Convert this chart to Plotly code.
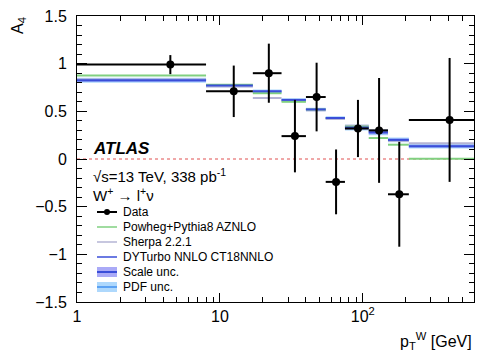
import plotly.graph_objects as go
import numpy as np

# ---- data ----
bin_edges = [1, 8, 17, 27, 40, 55, 75, 110, 150, 210, 600]
data_x = [4.5, 12.5, 22, 33.5, 47.5, 65, 92.5, 130, 180, 405]
data_y = [0.99, 0.71, 0.90, 0.24, 0.65, -0.24, 0.32, 0.30, -0.37, 0.41]
data_err = [0.10, 0.27, 0.31, 0.38, 0.36, 0.34, 0.30, 0.55, 0.55, 0.65]

powheg = [0.875, 0.78, 0.69, 0.60, 0.52, 0.43, 0.34, 0.22, 0.15, 0.003]
sherpa = [0.835, 0.76, 0.64, 0.61, 0.51, 0.42, 0.35, 0.30, 0.19, 0.165]
dyturbo = [0.826, 0.77, 0.71, 0.62, 0.52, 0.43, 0.33, 0.28, 0.20, 0.135]
scale_unc = [0.015, 0.010, 0.010, 0.010, 0.010, 0.010, 0.020, 0.020, 0.015, 0.015]
pdf_unc = [0.010, 0.008, 0.008, 0.008, 0.008, 0.008, 0.010, 0.010, 0.010, 0.010]

x_tickvals = [1, 10, 100]
x_ticktext = ["1", "10", "10<sup>2</sup>"]
y_tickvals = [-1.5, -1, -0.5, 0, 0.5, 1, 1.5]
y_ticktext = ["\u22121.5", "\u22121", "\u22120.5", "0", "0.5", "1", "1.5"]

legend_labels = ["Data", "Powheg+Pythia8 AZNLO", "Sherpa 2.2.1",
                 "DYTurbo NNLO CT18NNLO", "Scale unc.", "PDF unc."]

C_GREEN = "#80d080"
C_GREY = "#b4b4d4"
C_BLUE = "#3a4ed8"
C_SCALE = "rgba(100,100,240,0.55)"
C_PDF = "rgba(120,190,250,0.6)"

lo = bin_edges[:-1]
hi = bin_edges[1:]


def steps(vals):
    xs, ys = [], []
    for a, b, v in zip(lo, hi, vals):
        xs += [a, b, None]
        ys += [v, v, None]
    return xs, ys


def band(vals, errs):
    xs, ys = [], []
    for a, b, v, e in zip(lo, hi, vals, errs):
        xs += [a, b, b, a, a, None]
        ys += [v - e, v - e, v + e, v + e, v - e, None]
    return xs, ys


fig = go.Figure()

# zero line
fig.add_trace(go.Scatter(x=[bin_edges[0], bin_edges[-1]], y=[0, 0], mode="lines",
                         line=dict(color="#e05050", width=1, dash="dot"),
                         showlegend=False, hoverinfo="skip"))

# PDF band
bx, by = band(dyturbo, [s + p for s, p in zip(scale_unc, pdf_unc)])
fig.add_trace(go.Scatter(x=bx, y=by, fill="toself", fillcolor=C_PDF,
                         line=dict(width=0), mode="lines", showlegend=False, hoverinfo="skip"))
# Scale band
bx, by = band(dyturbo, scale_unc)
fig.add_trace(go.Scatter(x=bx, y=by, fill="toself", fillcolor=C_SCALE,
                         line=dict(width=0), mode="lines", showlegend=False, hoverinfo="skip"))

for vals, col in [(sherpa, C_GREY), (powheg, C_GREEN), (dyturbo, C_BLUE)]:
    sx, sy = steps(vals)
    fig.add_trace(go.Scatter(x=sx, y=sy, mode="lines", line=dict(color=col, width=2),
                             showlegend=False, hoverinfo="skip"))

# data
fig.add_trace(go.Scatter(
    x=data_x, y=data_y, mode="markers",
    marker=dict(color="black", size=8),
    error_y=dict(type="data", array=data_err, color="black", thickness=2, width=0),
    error_x=dict(type="data", symmetric=False,
                 array=[b - x for b, x in zip(hi, data_x)],
                 arrayminus=[x - a for a, x in zip(lo, data_x)],
                 color="black", thickness=2, width=0),
    showlegend=False))

# ---- layout ----
L, R, T, B = 77, 474, 16, 302
W, H = 481, 351


def px(x):
    return (x - L) / (R - L)


def py(y):
    return (B - y) / (B - T)


annotations = []
shapes = []

annotations.append(dict(x=px(91), y=py(148), xref="paper", yref="paper", xanchor="left",
                        yanchor="middle", showarrow=False, text="<b><i>ATLAS</i></b>",
                        font=dict(size=17, color="black")))
annotations.append(dict(x=px(91), y=py(175), xref="paper", yref="paper", xanchor="left",
                        yanchor="middle", showarrow=False,
                        text="\u221as=13 TeV, 338 pb<sup>-1</sup>",
                        font=dict(size=15, color="black")))
annotations.append(dict(x=px(91), y=py(194), xref="paper", yref="paper", xanchor="left",
                        yanchor="middle", showarrow=False,
                        text="W<sup>+</sup> \u2192 l<sup>+</sup>\u03bd",
                        font=dict(size=15, color="black")))

leg_y = [212, 227, 242, 257, 272, 287]
for lab, yy in zip(legend_labels, leg_y):
    annotations.append(dict(x=px(121), y=py(yy), xref="paper", yref="paper", xanchor="left",
                            yanchor="middle", showarrow=False, text=lab,
                            font=dict(size=12, color="black")))

x0s, x1s = px(97), px(117)
# Data symbol
shapes.append(dict(type="line", xref="paper", yref="paper", x0=x0s, x1=x1s,
                   y0=py(212), y1=py(212), line=dict(color="black", width=2)))
shapes.append(dict(type="circle", xref="paper", yref="paper", x0=px(104), x1=px(110),
                   y0=py(215), y1=py(209), fillcolor="black", line=dict(color="black", width=0)))
for yy, col in [(227, C_GREEN), (242, C_GREY), (257, C_BLUE)]:
    shapes.append(dict(type="line", xref="paper", yref="paper", x0=x0s, x1=x1s,
                       y0=py(yy), y1=py(yy), line=dict(color=col, width=1.5)))
shapes.append(dict(type="rect", xref="paper", yref="paper", x0=x0s, x1=x1s,
                   y0=py(277), y1=py(267), fillcolor=C_SCALE, line=dict(width=0)))
shapes.append(dict(type="line", xref="paper", yref="paper", x0=x0s, x1=x1s,
                   y0=py(272), y1=py(272), line=dict(color=C_BLUE, width=2)))
shapes.append(dict(type="rect", xref="paper", yref="paper", x0=x0s, x1=x1s,
                   y0=py(292), y1=py(282), fillcolor=C_PDF, line=dict(width=0)))
shapes.append(dict(type="line", xref="paper", yref="paper", x0=x0s, x1=x1s,
                   y0=py(287), y1=py(287), line=dict(color="#4090f0", width=1.5)))

# axis titles
annotations.append(dict(x=px(18), y=py(26), xref="paper", yref="paper", xanchor="center",
                        yanchor="middle", showarrow=False, text="A<sub>4</sub>",
                        textangle=-90, font=dict(size=16, color="black")))
annotations.append(dict(x=1.0, y=py(341), xref="paper", yref="paper", xanchor="right",
                        yanchor="middle", showarrow=False,
                        text="p<sub>T</sub><sup>W</sup> [GeV]",
                        font=dict(size=16, color="black")))

minor_x = [v * m for v in [1, 10, 100] for m in range(2, 10) if v * m < 600]

fig.update_layout(
    width=W, height=H,
    margin=dict(l=L, r=W - R, t=T, b=H - B, pad=0),
    paper_bgcolor="white", plot_bgcolor="white",
    font=dict(family="Liberation Sans", color="black"),
    showlegend=False,
    annotations=annotations, shapes=shapes,
    xaxis=dict(type="log", range=[0, np.log10(600)], showgrid=False, zeroline=False,
               showline=True, linecolor="black", linewidth=1, mirror="allticks",
               ticks="inside", ticklen=9, tickcolor="black",
               tickmode="array", tickvals=x_tickvals, ticktext=x_ticktext,
               tickfont=dict(size=16),
               minor=dict(tickmode="array", tickvals=minor_x, ticks="inside",
                          ticklen=5, tickcolor="black", showgrid=False)),
    yaxis=dict(range=[-1.5, 1.5], showgrid=False, zeroline=False,
               showline=True, linecolor="black", linewidth=1, mirror="allticks",
               ticks="inside", ticklen=10, tickcolor="black",
               tickmode="array", tickvals=y_tickvals, ticktext=y_ticktext,
               tickfont=dict(size=16), ticklabelstandoff=6,
               minor=dict(dtick=0.1, ticks="inside", ticklen=5, tickcolor="black",
                          showgrid=False)),
)

fig.write_html("out.html")
